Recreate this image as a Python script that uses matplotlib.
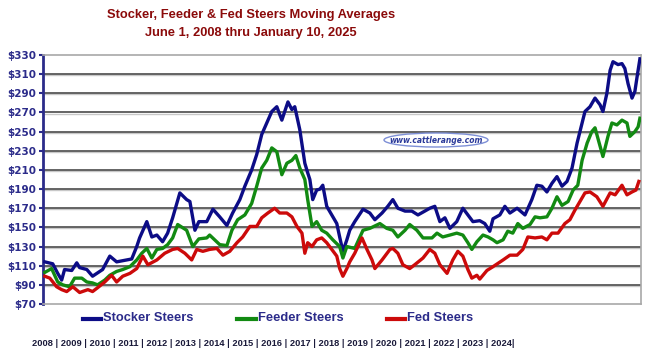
import matplotlib
matplotlib.use("Agg")
import matplotlib.pyplot as plt
from matplotlib.patches import Ellipse

# ---------------- data (decimal years, $/cwt) ----------------
stocker_t = [2008.45, 2008.67, 2008.81, 2008.92, 2009.00, 2009.20, 2009.34, 2009.42, 2009.62, 2009.78,
             2010.06, 2010.26, 2010.45, 2010.73, 2010.87, 2011.01, 2011.09, 2011.29, 2011.43, 2011.57,
             2011.73, 2011.87, 2012.01, 2012.21, 2012.40, 2012.49, 2012.63, 2012.74, 2012.96, 2013.13,
             2013.32, 2013.52, 2013.68, 2013.88, 2014.02, 2014.21, 2014.35, 2014.49, 2014.63, 2014.77,
             2014.91, 2015.05, 2015.13, 2015.22, 2015.33, 2015.41, 2015.55, 2015.69, 2015.77, 2015.83,
             2015.91, 2016.02, 2016.11, 2016.19, 2016.30, 2016.44, 2016.58, 2016.66, 2016.75, 2016.86,
             2016.94, 2017.08, 2017.31, 2017.50, 2017.64, 2017.84, 2018.00, 2018.14, 2018.28, 2018.48,
             2018.67, 2018.84, 2019.03, 2019.17, 2019.31, 2019.45, 2019.59, 2019.73, 2019.92, 2020.09,
             2020.23, 2020.37, 2020.56, 2020.70, 2020.84, 2020.93, 2021.12, 2021.26, 2021.40, 2021.60,
             2021.82, 2022.01, 2022.15, 2022.29, 2022.43, 2022.57, 2022.71, 2022.85, 2022.99, 2023.13,
             2023.27, 2023.41, 2023.49, 2023.63, 2023.77, 2023.91, 2023.99, 2024.10, 2024.19, 2024.27,
             2024.41, 2024.52, 2024.60, 2024.69, 2024.80, 2024.88, 2024.94, 2025.02]
stocker_v = [114, 112, 102, 95, 106, 105, 113, 108, 106, 99,
             106, 120, 114, 116, 117, 130, 139, 156, 140, 142,
             135, 144, 160, 186, 179, 177, 147, 156, 156, 169,
             161, 152, 165, 179, 193, 210, 226, 247, 259, 271,
             276, 262, 271, 281, 273, 276, 252, 217, 207, 200,
             179, 189, 190, 194, 172, 163, 154, 140, 125, 137,
             147, 156, 169, 165, 158, 165, 172, 179, 170, 167,
             167, 163, 167, 170, 172, 156, 160, 149, 156, 170,
             163, 156, 157, 154, 146, 159, 163, 172, 165, 170,
             163, 179, 194, 193, 187, 196, 203, 193, 198, 212,
             238, 259, 271, 276, 285, 278, 271, 290, 314, 323,
             320, 321, 316, 300, 285, 292, 307, 326]

feeder_t = [2008.45, 2008.64, 2008.81, 2008.95, 2009.14, 2009.28, 2009.48, 2009.62, 2009.78, 2009.92,
            2010.12, 2010.26, 2010.45, 2010.62, 2010.82, 2011.01, 2011.15, 2011.29, 2011.43, 2011.57,
            2011.73, 2011.87, 2012.01, 2012.15, 2012.40, 2012.57, 2012.74, 2012.96, 2013.04, 2013.18,
            2013.32, 2013.52, 2013.66, 2013.82, 2014.02, 2014.21, 2014.35, 2014.49, 2014.63, 2014.77,
            2014.91, 2015.05, 2015.19, 2015.33, 2015.44, 2015.55, 2015.69, 2015.77, 2015.89, 2016.02,
            2016.16, 2016.30, 2016.47, 2016.66, 2016.75, 2016.86, 2017.08, 2017.31, 2017.50, 2017.78,
            2017.97, 2018.14, 2018.28, 2018.48, 2018.61, 2018.81, 2018.98, 2019.23, 2019.37, 2019.53,
            2019.73, 2019.92, 2020.09, 2020.23, 2020.34, 2020.48, 2020.65, 2020.79, 2020.93, 2021.04,
            2021.21, 2021.34, 2021.48, 2021.62, 2021.76, 2021.96, 2022.10, 2022.24, 2022.43, 2022.57,
            2022.71, 2022.85, 2023.02, 2023.16, 2023.29, 2023.41, 2023.55, 2023.68, 2023.77, 2023.85,
            2023.99, 2024.13, 2024.24, 2024.38, 2024.52, 2024.66, 2024.74, 2024.88, 2024.97, 2025.02]
feeder_v = [103, 107, 93, 90, 88, 97, 97, 93, 92, 90,
            95, 100, 104, 106, 109, 116, 123, 128, 118, 127,
            128, 132, 139, 153, 147, 130, 138, 139, 142, 137,
            132, 131, 147, 158, 163, 175, 193, 212, 220, 233,
            229, 205, 217, 220, 225, 212, 200, 179, 151, 156,
            147, 144, 137, 130, 118, 130, 128, 147, 149, 154,
            149, 147, 140, 147, 153, 147, 139, 139, 144, 140,
            142, 144, 142, 134, 127, 135, 142, 140, 137, 134,
            137, 146, 144, 154, 149, 153, 161, 160, 161, 170,
            182, 173, 177, 189, 194, 220, 238, 250, 254, 243,
            224, 245, 259, 257, 262, 259, 245, 250, 255, 264]

fed_t = [2008.45, 2008.59, 2008.78, 2008.92, 2009.06, 2009.23, 2009.42, 2009.65, 2009.78, 2009.92,
         2010.12, 2010.31, 2010.45, 2010.62, 2010.82, 2011.01, 2011.18, 2011.32, 2011.57, 2011.79,
         2012.01, 2012.15, 2012.35, 2012.54, 2012.68, 2012.85, 2013.04, 2013.24, 2013.41, 2013.60,
         2013.80, 2013.96, 2014.16, 2014.35, 2014.49, 2014.66, 2014.85, 2014.99, 2015.19, 2015.33,
         2015.47, 2015.61, 2015.69, 2015.77, 2015.89, 2016.02, 2016.16, 2016.30, 2016.44, 2016.58,
         2016.66, 2016.75, 2016.86, 2016.94, 2017.08, 2017.28, 2017.42, 2017.56, 2017.64, 2017.84,
         2018.06, 2018.14, 2018.28, 2018.42, 2018.61, 2018.75, 2018.98, 2019.17, 2019.31, 2019.45,
         2019.65, 2019.81, 2019.95, 2020.09, 2020.23, 2020.34, 2020.48, 2020.56, 2020.76, 2020.93,
         2021.09, 2021.21, 2021.40, 2021.60, 2021.76, 2021.90, 2022.10, 2022.29, 2022.43, 2022.57,
         2022.74, 2022.93, 2023.07, 2023.21, 2023.35, 2023.49, 2023.63, 2023.82, 2023.99, 2024.19,
         2024.33, 2024.52, 2024.66, 2024.80, 2024.91, 2024.99]
fed_v = [99, 97, 88, 85, 83, 88, 82, 85, 83, 87,
         93, 100, 93, 99, 102, 107, 120, 111, 116, 123,
         127, 128, 123, 116, 127, 125, 127, 128, 121, 125,
         134, 140, 151, 151, 160, 165, 170, 165, 165, 161,
         151, 144, 123, 134, 130, 137, 139, 134, 127, 120,
         107, 99, 107, 114, 123, 139, 127, 116, 107, 116,
         127, 128, 123, 111, 107, 111, 118, 127, 123, 111,
         102, 116, 125, 120, 106, 97, 100, 96, 105, 109,
         113, 116, 121, 121, 127, 140, 139, 140, 137, 144,
         144, 154, 158, 168, 177, 186, 187, 182, 172, 186,
         184, 194, 184, 187, 189, 198]

series_names = ["Stocker Steers", "Feeder Steers", "Fed Steers"]
series_colors = ["#0c0c86", "#128a12", "#cc0a0a"]
y_ticks = list(range(70, 331, 20))
year_labels = [str(y) for y in range(2008, 2025)]

title_lines = ["Stocker, Feeder & Fed Steers Moving Averages",
               "June 1, 2008 thru January 10, 2025"]
watermark = "www.cattlerange.com"

# ---------------- figure ----------------
W, H = 646, 358
fig = plt.figure(figsize=(W / 100, H / 100), dpi=100)
fig.patch.set_facecolor("white")
ax = fig.add_axes([43 / W, 1 - 304 / H, (641 - 43) / W, (304 - 55) / H])

navy = "#2b2b8a"
narrow = ["Liberation Sans Narrow", "Liberation Sans", "DejaVu Sans"]

for yv in y_ticks[1:-1]:
    ax.axhline(yv - 1.1, color="#c8c8c8", lw=1.0, zorder=1)
    ax.axhline(yv, color="#3a3a3a", lw=1.1, zorder=1.1)

for t, v, c in zip([stocker_t, feeder_t, fed_t], [stocker_v, feeder_v, fed_v], series_colors):
    ax.plot(t, v, color=c, lw=2.4, solid_joinstyle="round", zorder=3)

ax.set_xlim(2008.40, 2025.05)
ax.set_ylim(70, 330)
ax.set_xticks([])
ax.set_yticks(y_ticks)
ax.set_yticklabels([f"${v}" for v in y_ticks], fontsize=7.5, fontweight="bold", color=navy,
                   family="DejaVu Sans")
ax.tick_params(axis="y", length=3, width=1.5, color=navy, pad=2)
ax.spines["left"].set_color(navy)
ax.spines["left"].set_linewidth(2.0)
for s in ["top", "right", "bottom"]:
    ax.spines[s].set_color("#a8a8a8")
    ax.spines[s].set_linewidth(1.2)

# watermark
el = Ellipse((436 / W, 1 - 140 / H), 104 / W, 14 / H, transform=fig.transFigure,
             facecolor="white", edgecolor="#7d8fd6", lw=1.0, zorder=4)
fig.add_artist(el)
fig.text(436 / W, 1 - 140.5 / H, watermark, ha="center", va="center", fontsize=5.5,
         style="italic", fontweight="bold", color="#2b3a9a", family="DejaVu Sans", zorder=5)

# title
fig.text(251 / W, 1 - 15 / H, title_lines[0], ha="center", va="center", fontsize=9.3,
         fontweight="bold", color="#8b0a0a", family=narrow)
fig.text(251 / W, 1 - 33 / H, title_lines[1], ha="center", va="center", fontsize=9.3,
         fontweight="bold", color="#8b0a0a", family=narrow)

# legend
leg_items = [(83, 101, 103), (237, 256, 258), (387, 405, 407)]
for (x0, x1, xt), name, c in zip(leg_items, series_names, series_colors):
    fig.add_artist(plt.Line2D([x0 / W, x1 / W], [1 - 319 / H, 1 - 319 / H], color=c, lw=3.0,
                              transform=fig.transFigure))
    fig.text(xt / W, 1 - 318 / H, name, ha="left", va="center", fontsize=9.3, fontweight="bold",
             color=navy, family=narrow)

# year row
year_text = " | ".join(year_labels) + "|"
fig.text(32 / W, 1 - 343 / H, year_text, ha="left", va="center", fontsize=6.65, fontweight="bold",
         color="#1a1a3a", family=narrow)

fig.savefig("out.png", dpi=100)
